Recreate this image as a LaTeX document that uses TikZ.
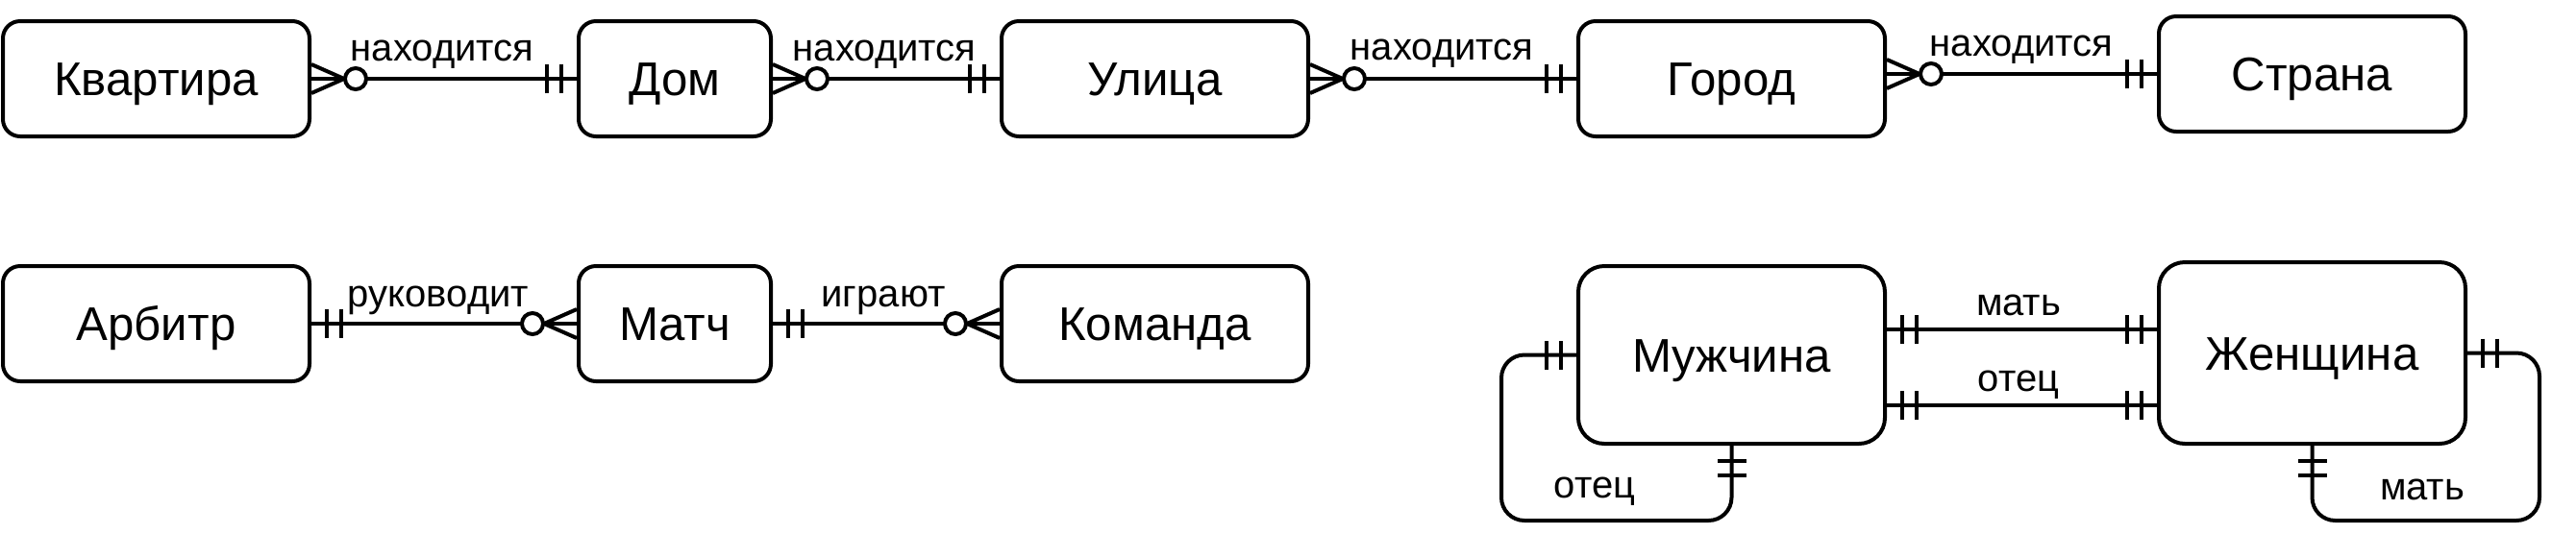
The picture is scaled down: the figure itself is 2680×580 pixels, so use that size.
\documentclass[tikz,border=0pt]{standalone}
\usepackage{fontspec}
\setmainfont{Liberation Sans}
\usetikzlibrary{calc}
\tikzset{
  ent/.style={draw, line width=1pt, rounded corners=4.5pt, minimum width=79.75pt, minimum height=30pt,
    inner sep=0pt, text height=8.8pt, text depth=0pt, font=\fontsize{12.3}{14}\selectfont},
  entbig/.style={ent, rounded corners=6.75pt},
  rel/.style={draw, line width=1pt},
  lbl/.style={font=\fontsize{10}{12}\selectfont, inner sep=0pt, anchor=base},
}
\newcommand\mandone[2]{\begin{scope}[shift={(#1)}, rotate=#2]\draw[rel] (16,-15)--(16,15) (31,-15)--(31,15);\end{scope}}
\newcommand\zeromany[2]{\begin{scope}[shift={(#1)}, rotate=#2]\draw[rel] (0,-15)--(34,0)--(0,15); \draw[rel, fill=white] (46,0) circle[radius=2.75pt];\end{scope}}
\begin{document}
\begin{tikzpicture}[x=0.25pt, y=-0.25pt]
\useasboundingbox (0,0) rectangle (2680,580);
% entities
\node[ent] (kv) at (162.5,82) {Квартира};
\node[ent, minimum width=50pt] (dom) at (702,82) {Дом};
\node[ent] (ul) at (1201.5,82) {Улица};
\node[ent] (gor) at (1801.5,82) {Город};
\node[ent] (str) at (2405.5,77) {Страна};
\node[ent] (arb) at (162.5,337) {Арбитр};
\node[ent, minimum width=50pt] (mat) at (702,337) {Матч};
\node[ent] (kom) at (1201.5,337) {Команда};
\node[entbig, minimum height=46.25pt] (muz) at (1801.5,369.5) {Мужчина};
\node[entbig, minimum height=47.25pt] (zhen) at (2405.5,367.5) {Женщина};
% row 1
\draw[rel] (kv.east) -- (dom.west);
\zeromany{kv.east}{0} \mandone{dom.west}{180}
\node[lbl] (l1) at (460,63) {находится};
\draw[rel] (dom.east) -- (ul.west);
\zeromany{dom.east}{0} \mandone{ul.west}{180}
\node[lbl] (l2) at (920,63) {находится};
\draw[rel] (ul.east) -- (gor.west);
\zeromany{ul.east}{0} \mandone{gor.west}{180}
\node[lbl] (l3) at (1500,62) {находится};
\coordinate (g1) at (str.west -| gor.east);
\draw[rel] (g1) -- (str.west);
\zeromany{g1}{0} \mandone{str.west}{180}
\node[lbl] (l4) at (2103,58) {находится};
% row 2
\draw[rel] (arb.east) -- (mat.west);
\mandone{arb.east}{0} \zeromany{mat.west}{180}
\node[lbl] (l5) at (456,319) {руководит};
\draw[rel] (mat.east) -- (kom.west);
\mandone{mat.east}{0} \zeromany{kom.west}{180}
\node[lbl] (l6) at (919,319) {играют};
% man / woman
\coordinate (ma1) at ($(muz.east)+(0,-26.5)$);
\coordinate (ma2) at (ma1 -| zhen.west);
\draw[rel] (ma1) -- (ma2);
\mandone{ma1}{0} \mandone{ma2}{180}
\node[lbl] (l7) at (2100,328) {мать};
\coordinate (ot1) at ($(muz.east)+(0,52.5)$);
\coordinate (ot2) at (ot1 -| zhen.west);
\draw[rel] (ot1) -- (ot2);
\mandone{ot1}{0} \mandone{ot2}{180}
\node[lbl] (l8) at (2100,407) {отец};
% loops
\coordinate (lm) at (1562,542);
\draw[rel, rounded corners=6pt] (muz.west) -| (lm) -| (muz.south);
\mandone{muz.west}{180} \mandone{muz.south}{-90}
\node[lbl] (l9) at (1659,518) {отец};
\coordinate (lw) at (2642,542);
\draw[rel, rounded corners=6pt] (zhen.east) -| (lw) -| (zhen.south);
\mandone{zhen.east}{0} \mandone{zhen.south}{-90}
\node[lbl] (l10) at (2520,520) {мать};
\end{tikzpicture}
\end{document}
